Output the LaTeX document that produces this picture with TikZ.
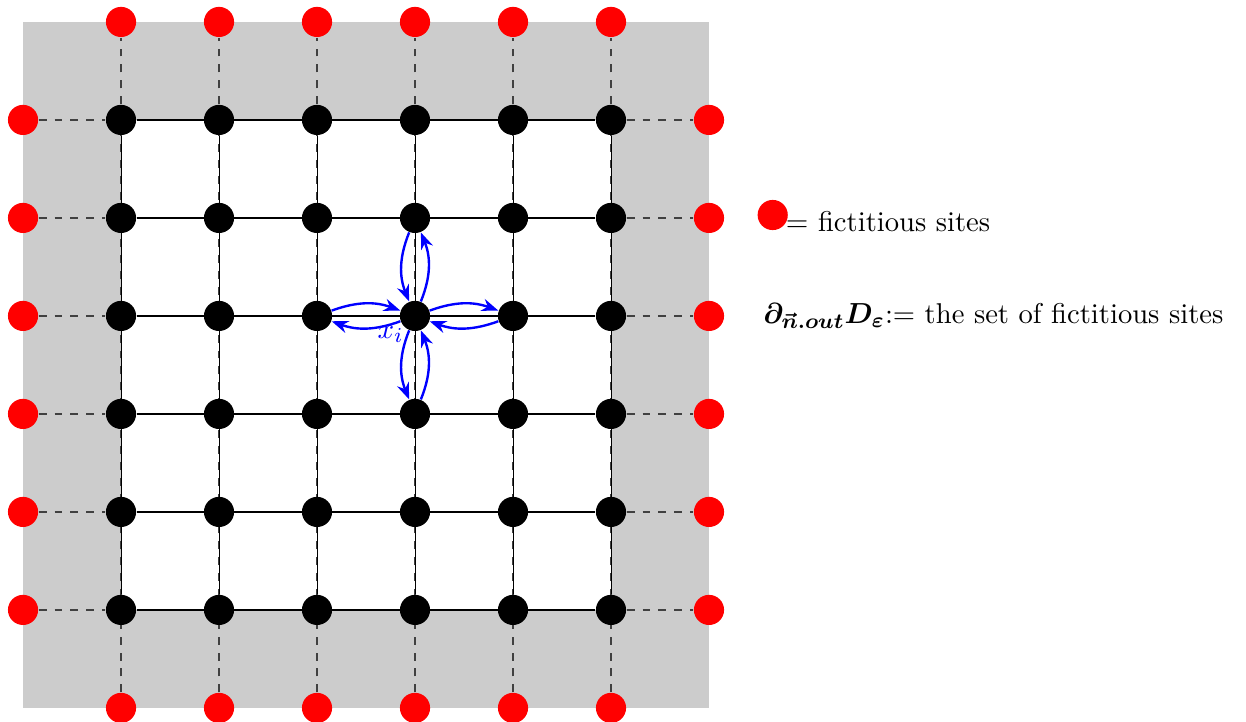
\documentclass[tikz,border=0pt]{standalone}
\usepackage{amsmath,amssymb}
\usepackage{bm}
\usetikzlibrary{arrows.meta,positioning,backgrounds}

\begin{document}
\begin{tikzpicture}[x=1.3cm, y=1.3cm,
  every node/.style={font=\fontsize{10.8}{13}\selectfont},
  site/.style={circle, fill=black, minimum size=4mm, inner sep=0pt},
  fict/.style={circle, fill=red, minimum size=4mm, inner sep=0pt},
  ghost/.style={dashed, black!75, line width=0.5pt},
  bond/.style={black, line width=0.8pt},
  hop/.style={blue, line width=0.9pt, -{Stealth[length=2.2mm]}}]
\useasboundingbox (-0.235,-0.143) rectangle (12.48,7.224);
% lattice sites
\foreach \i in {1,...,6}
  \foreach \j in {1,...,6}
    \node[site] (s\i\j) at (\i,\j) {};
% fictitious sites
\foreach \k in {1,...,6} {
  \node[fict] (f0\k) at (0,\k) {};
  \node[fict] (f7\k) at (7,\k) {};
  \node[fict] (f\k0) at (\k,0) {};
  \node[fict] (f\k7) at (\k,7) {};
}
\begin{scope}[on background layer]
\fill[black!20] (0,0) rectangle (7,7);
\fill[white] (s11.center) rectangle (s66.center);
\foreach \k in {1,...,6} {
  \draw[ghost] (f0\k) -- (s1\k);
  \draw[ghost] (s6\k) -- (f7\k);
  \draw[ghost] (f\k0) -- (f\k7);
  \draw[bond] (s1\k) -- (s6\k);
  \draw[black, line width=0.3pt] (s\k1) -- (s\k6);
}
\end{scope}
% hopping from x_i
\draw[hop] (s34) to[bend left=20] (s44);
\draw[hop] (s44) to[bend left=20] (s34);
\draw[hop] (s44) to[bend left=20] (s54);
\draw[hop] (s54) to[bend left=20] (s44);
\draw[hop] (s45) to[bend right=22] (s44);
\draw[hop] (s44) to[bend right=22] (s45);
\draw[hop] (s44) to[bend right=22] (s43);
\draw[hop] (s43) to[bend right=22] (s44);
\node[blue] (xi) at (3.75,3.81) {$x_i$};
% legend
\node[fict] (leg) at (7.65,5.03) {};
\node[anchor=west, inner sep=0pt] (legtext) at (7.78,4.96) {$=$ fictitious sites};
\node[anchor=west, inner sep=0pt] (defn) at (7.55,4.0) {$\bm{\partial_{\vec{n}.out}D_{\varepsilon}}$:= the set of fictitious sites};
\end{tikzpicture}
\end{document}
